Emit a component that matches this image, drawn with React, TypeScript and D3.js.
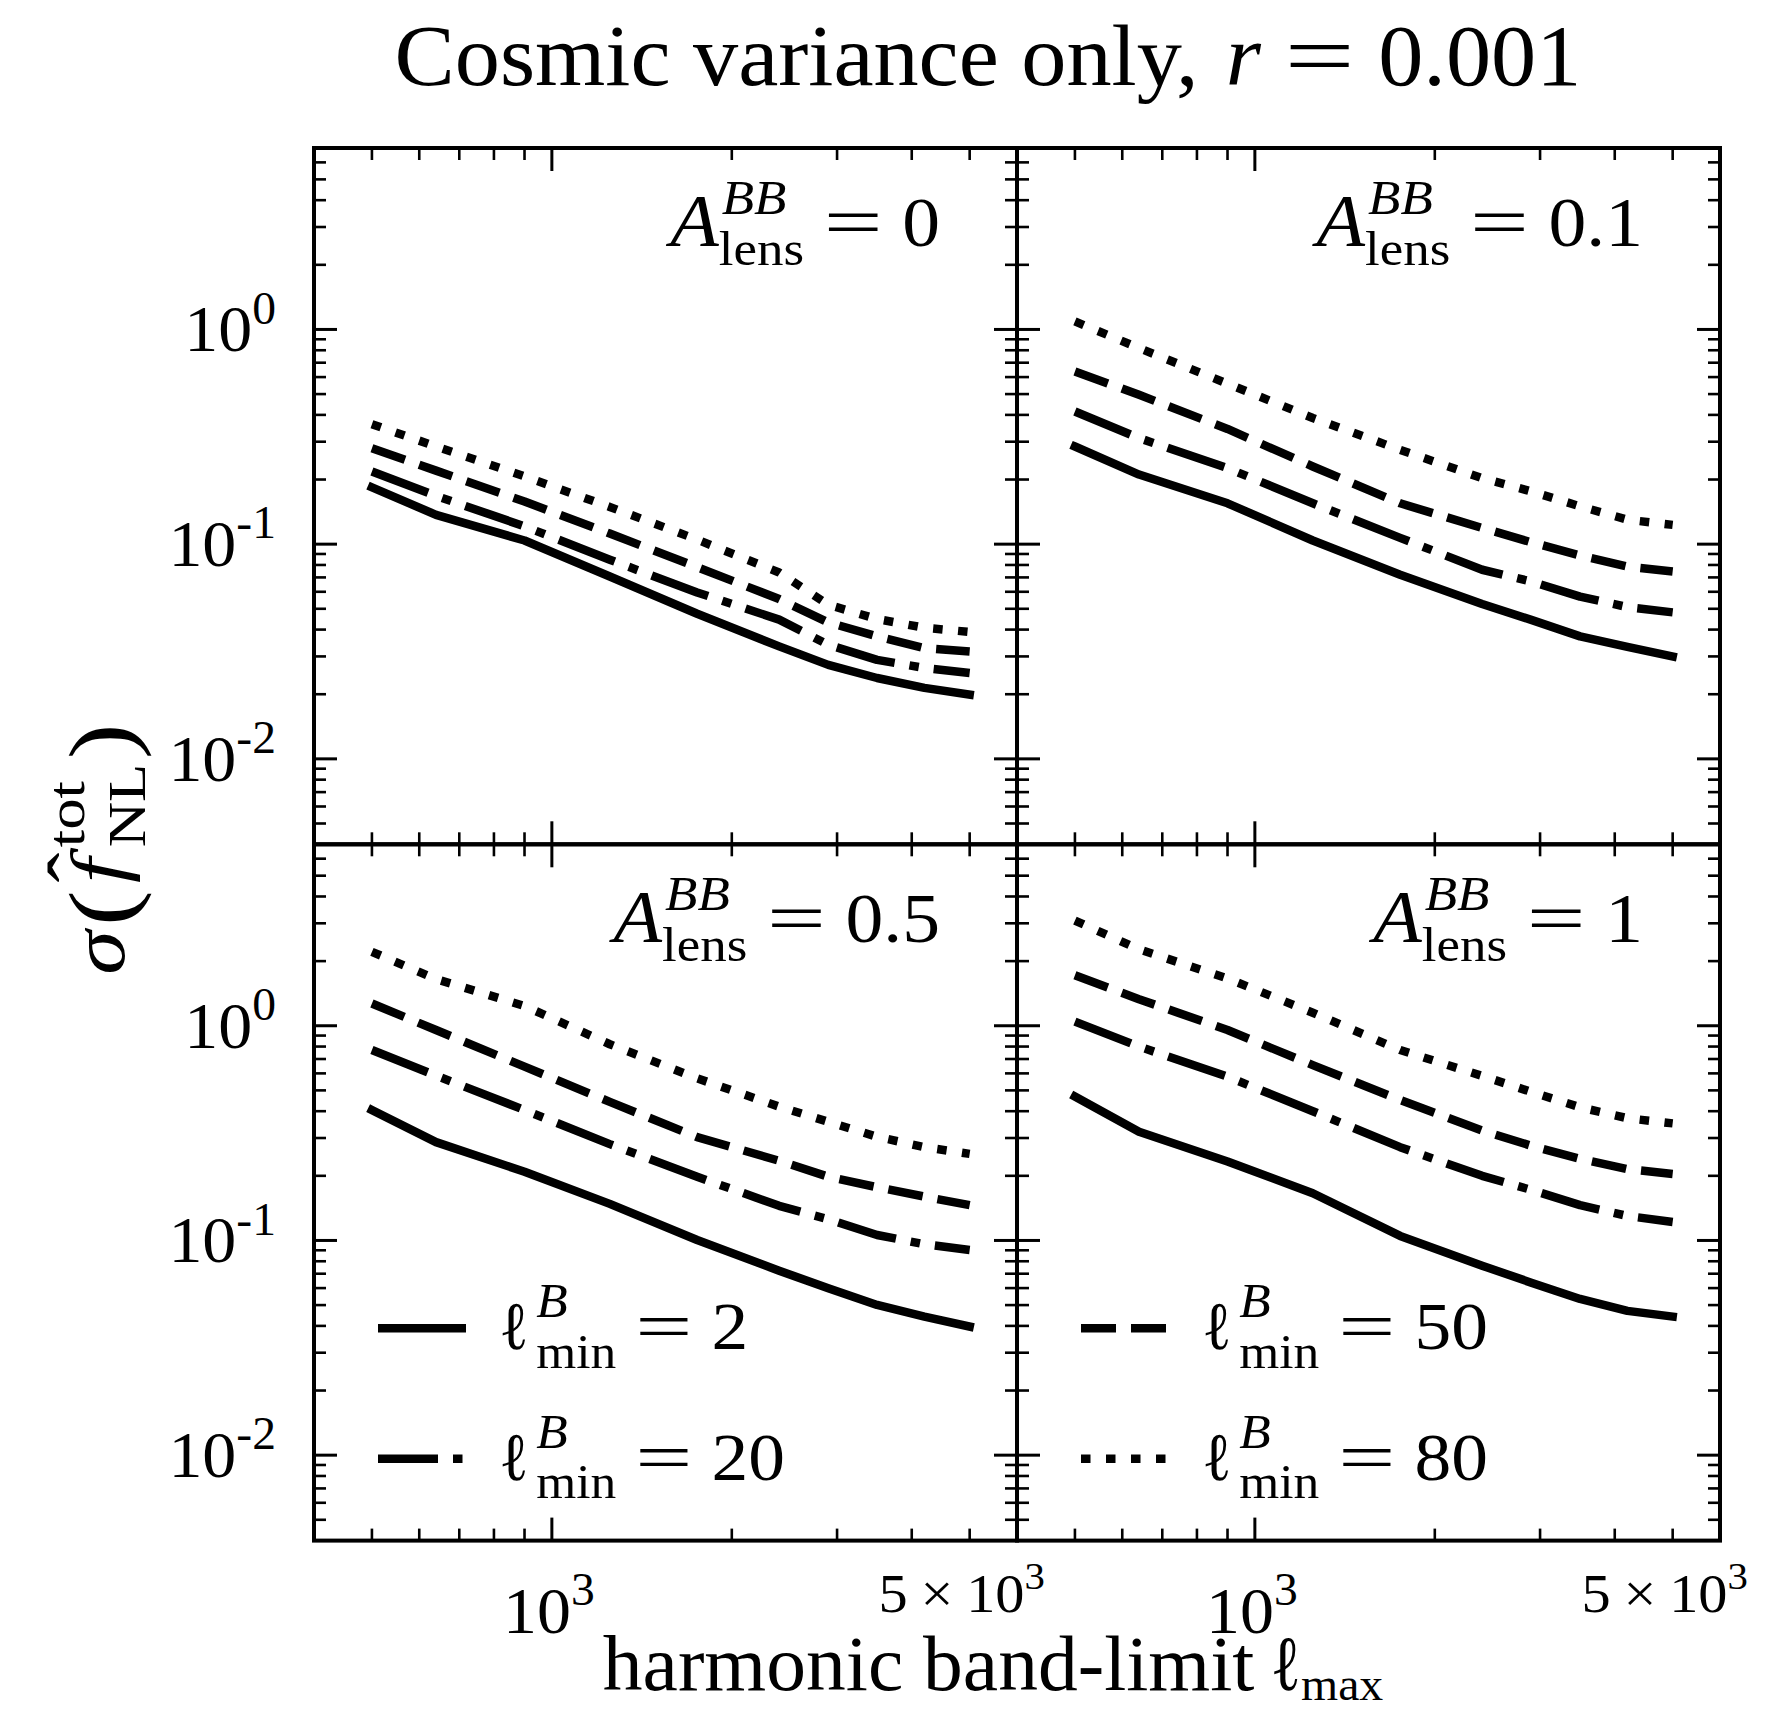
import React, { useEffect, useRef } from "react";
import * as d3 from "d3";

// ---------------- data ----------------
const ELL_MAX = [500, 640, 900, 1250, 1750, 2400, 2900, 3500, 4200, 5000];

// A_lens^BB = 0
const A0_L2 = [0.184, 0.137, 0.104, 0.0707, 0.0474, 0.0334, 0.0274, 0.0238, 0.0214, 0.0199];
const A0_L20 = [0.218, 0.168, 0.121, 0.0846, 0.0596, 0.0445, 0.034, 0.0289, 0.0265, 0.0251];
const A0_L50 = [0.28, 0.22, 0.158, 0.112, 0.0782, 0.0555, 0.0432, 0.0372, 0.0328, 0.0316];
const A0_L80 = [0.362, 0.285, 0.207, 0.149, 0.105, 0.0738, 0.0522, 0.0448, 0.0408, 0.039];
// A_lens^BB = 0.1
const A01_L2 = [0.285, 0.211, 0.155, 0.104, 0.072, 0.0526, 0.0444, 0.0372, 0.0332, 0.03];
const A01_L20 = [0.415, 0.312, 0.226, 0.155, 0.107, 0.076, 0.067, 0.057, 0.0509, 0.0481];
const A01_L50 = [0.637, 0.496, 0.344, 0.23, 0.155, 0.119, 0.102, 0.0886, 0.0787, 0.0746];
const A01_L80 = [1.09, 0.819, 0.559, 0.387, 0.275, 0.203, 0.176, 0.15, 0.13, 0.123];
// A_lens^BB = 0.5
const A05_L2 = [0.405, 0.287, 0.209, 0.148, 0.1005, 0.0723, 0.0599, 0.0501, 0.0442, 0.0397];
const A05_L20 = [0.771, 0.586, 0.405, 0.281, 0.198, 0.145, 0.1256, 0.106, 0.096, 0.0903];
const A05_L50 = [1.27, 0.955, 0.645, 0.442, 0.303, 0.235, 0.198, 0.177, 0.16, 0.146];
const A05_L80 = [2.21, 1.65, 1.236, 0.82, 0.569, 0.42, 0.357, 0.304, 0.272, 0.253];
// A_lens^BB = 1
const A1_L2 = [0.468, 0.321, 0.233, 0.166, 0.105, 0.0763, 0.0636, 0.0534, 0.047, 0.0442];
const A1_L20 = [1.045, 0.8, 0.579, 0.4, 0.272, 0.2, 0.172, 0.146, 0.13, 0.122];
const A1_L50 = [1.72, 1.33, 0.955, 0.656, 0.451, 0.325, 0.276, 0.24, 0.215, 0.204];
const A1_L80 = [3.09, 2.27, 1.66, 1.15, 0.771, 0.584, 0.492, 0.417, 0.371, 0.351];

const A_LENS_LABELS = ["0", "0.1", "0.5", "1"];
const ELL_MIN_LABELS = ["2", "20", "50", "80"];

const X_DOMAIN = [400, 6000];
const Y_DOMAIN = [0.004, 7];
const X_MAJOR = [1000];
const X_MINOR = [500, 600, 700, 800, 900, 2000, 3000, 4000, 5000];
const Y_MAJOR = [0.01, 0.1, 1];
const Y_MINOR = [
  0.004, 0.005, 0.006, 0.007, 0.008, 0.009,
  0.02, 0.03, 0.04, 0.05, 0.06, 0.07, 0.08, 0.09,
  0.2, 0.3, 0.4, 0.5, 0.6, 0.7, 0.8, 0.9,
  2, 3, 4, 5, 6,
];
const Y_TICK_EXP = ["-2", "-1", "0"];

// ---------------- styles / layout ----------------
const FONT = "'Liberation Serif', 'Times New Roman', serif";
const LW = 8.5;
const DASHES = ["none", "60,15,9.5,15", "35,15", "9.5,15.5"]; // solid, dash-dot, dashed, dotted

const PW = 703;
const PH = 696.3;
const COL_X = [314, 1017];
const ROW_Y = [148, 844.3];
const EQ_SX = 1.38;

type Part = {
  t?: string;
  it?: boolean;
  sc?: number;
  sx?: number;
  gap?: number;
  dy?: number;
  hat?: boolean;
  sup?: string;
  supIt?: boolean;
  sub?: string;
  subIt?: boolean;
  supDy?: number;
  subDy?: number;
  sgap?: number;
};

function putText(
  g: d3.Selection<any, any, any, any>,
  x: number,
  y: number,
  size: number,
  italic: boolean,
  str: string,
  sx = 1
) {
  const el = g
    .append("text")
    .attr("x", x / sx)
    .attr("y", y)
    .attr("font-size", size)
    .attr("font-style", italic ? "italic" : "normal")
    .text(str);
  if (sx !== 1) el.attr("transform", `scale(${sx},1)`);
  return (el.node() as SVGTextElement).getComputedTextLength() * sx;
}

function math(
  parent: d3.Selection<any, any, any, any>,
  x: number,
  y: number,
  fs: number,
  anchor: "start" | "end" | "middle",
  parts: Part[],
  stretch = 1
) {
  const outer = parent.append("g").attr("font-family", FONT).attr("fill", "#000");
  const g = outer.append("g");
  let cx = 0;
  for (const p of parts) {
    cx += (p.gap ?? 0) * fs;
    if (p.t !== undefined) {
      const sc = p.sc ?? 1;
      const w = putText(g, cx, (p.dy ?? 0) * fs, fs * sc, !!p.it, p.t, p.sx ?? 1);
      if (p.hat) {
        g.append("text")
          .attr("x", cx + w * 0.62)
          .attr("y", -0.3 * fs)
          .attr("font-size", fs)
          .attr("text-anchor", "middle")
          .text("\u02C6");
      }
      cx += w;
    } else {
      const sc = p.sc ?? 0.7;
      let w = 0;
      if (p.sup !== undefined) {
        w = Math.max(w, putText(g, cx + (p.sgap ?? 0) * fs, -(p.supDy ?? 0.45) * fs, fs * sc, !!p.supIt, p.sup));
      }
      if (p.sub !== undefined) {
        w = Math.max(w, putText(g, cx, (p.subDy ?? 0.26) * fs, fs * sc, !!p.subIt, p.sub));
      }
      cx += w;
    }
  }
  const total = cx * stretch;
  const off = anchor === "start" ? 0 : anchor === "end" ? -total : -total / 2;
  g.attr("transform", `scale(${stretch},1)`);
  outer.attr("transform", `translate(${x + off},${y})`);
  return outer;
}

function draw(svgEl: SVGSVGElement) {
  const svg = d3.select(svgEl);
  svg.selectAll("*").remove();
  svg.append("rect").attr("width", 1777).attr("height", 1714).attr("fill", "#fff");

  const panels = [
    { col: 0, row: 0, a: A_LENS_LABELS[0], series: [A0_L2, A0_L20, A0_L50, A0_L80] },
    { col: 1, row: 0, a: A_LENS_LABELS[1], series: [A01_L2, A01_L20, A01_L50, A01_L80] },
    { col: 0, row: 1, a: A_LENS_LABELS[2], series: [A05_L2, A05_L20, A05_L50, A05_L80] },
    { col: 1, row: 1, a: A_LENS_LABELS[3], series: [A1_L2, A1_L20, A1_L50, A1_L80] },
  ];

  for (const p of panels) {
    const x0 = COL_X[p.col];
    const y0 = ROW_Y[p.row];
    const x = d3.scaleLog().domain(X_DOMAIN).range([x0, x0 + PW]);
    const y = d3.scaleLog().domain(Y_DOMAIN).range([y0 + PH, y0]);
    const g = svg.append("g");

    const line = d3
      .line<number>()
      .x((_, i) => x(ELL_MAX[i]))
      .y((v) => y(v));

    p.series.forEach((s, i) => {
      g.append("path")
        .attr("d", line(s) as string)
        .attr("fill", "none")
        .attr("stroke", "#000")
        .attr("stroke-width", LW)
        .attr("stroke-linejoin", "round")
        .attr("stroke-linecap", i === 0 ? "square" : "butt")
        .attr("stroke-dasharray", DASHES[i]);
    });

    // ticks (inward, all sides)
    const tk = g.append("g").attr("stroke", "#000");
    const xt = [
      ...X_MAJOR.map((v) => ({ v, len: 23, w: 3 })),
      ...X_MINOR.map((v) => ({ v, len: 12, w: 2.6 })),
    ];
    xt.forEach((t) => {
      const xx = x(t.v);
      tk.append("line").attr("x1", xx).attr("x2", xx).attr("y1", y0 + PH).attr("y2", y0 + PH - t.len).attr("stroke-width", t.w);
      tk.append("line").attr("x1", xx).attr("x2", xx).attr("y1", y0).attr("y2", y0 + t.len).attr("stroke-width", t.w);
    });
    const yt = [
      ...Y_MAJOR.map((v) => ({ v, len: 23, w: 3 })),
      ...Y_MINOR.map((v) => ({ v, len: 12, w: 2.6 })),
    ];
    yt.forEach((t) => {
      const yy = y(t.v);
      tk.append("line").attr("y1", yy).attr("y2", yy).attr("x1", x0).attr("x2", x0 + t.len).attr("stroke-width", t.w);
      tk.append("line").attr("y1", yy).attr("y2", yy).attr("x1", x0 + PW).attr("x2", x0 + PW - t.len).attr("stroke-width", t.w);
    });

    g.append("rect")
      .attr("x", x0)
      .attr("y", y0)
      .attr("width", PW)
      .attr("height", PH)
      .attr("fill", "none")
      .attr("stroke", "#000")
      .attr("stroke-width", 4);

    // annotation A_lens^BB = ...
    math(
      g,
      x0 + PW - 77,
      y0 + 98,
      70,
      "end",
      [
        { t: "A", it: true, sc: 1.05 },
        { sup: "BB", supIt: true, sub: "lens", supDy: 0.46, subDy: 0.27, sgap: 0.04 },
        { t: "=", gap: 0.26, sx: EQ_SX },
        { t: p.a, gap: 0.26 },
      ],
      1.08
    );

    // y tick labels
    if (p.col === 0) {
      Y_MAJOR.forEach((v, i) => {
        math(g, x0 - 38, y(v) + 22, 66, "end", [{ t: "10" }, { sup: Y_TICK_EXP[i], supDy: 0.42 }], 1.03);
      });
    }
    // x tick labels
    if (p.row === 1) {
      math(g, x(1000) - 3, y0 + PH + 92, 66, "middle", [{ t: "10" }, { sup: "3", supDy: 0.42 }], 1.03);
      math(
        g,
        x(5000) - 8,
        y0 + PH + 71,
        54,
        "middle",
        [{ t: "5" }, { t: "\u00D7", gap: 0.22 }, { t: "10", gap: 0.22 }, { sup: "3", supDy: 0.42 }],
        1.08
      );
    }
  }

  // legends
  const legendRows = [
    { panel: 0, row: 0, idx: 0 },
    { panel: 0, row: 1, idx: 1 },
    { panel: 1, row: 0, idx: 2 },
    { panel: 1, row: 1, idx: 3 },
  ];
  legendRows.forEach((r) => {
    const x0 = COL_X[r.panel];
    const yy = ROW_Y[1] + 484 + r.row * 130.5;
    svg
      .append("line")
      .attr("x1", x0 + 64)
      .attr("x2", x0 + 152)
      .attr("y1", yy)
      .attr("y2", yy)
      .attr("stroke", "#000")
      .attr("stroke-width", LW)
      .attr("stroke-dasharray", DASHES[r.idx]);
    math(
      svg,
      x0 + 185,
      yy + 21,
      68,
      "start",
      [
        { t: "\u2113", sx: 0.85 },
        { sup: "B", supIt: true, sub: "min", supDy: 0.47, subDy: 0.27, gap: 0.1 },
        { t: "=", gap: 0.26, sx: EQ_SX },
        { t: ELL_MIN_LABELS[r.idx], gap: 0.26 },
      ],
      1.08
    );
  });

  // title
  math(
    svg,
    988,
    85,
    86,
    "middle",
    [
      { t: "Cosmic variance only," },
      { t: "r", it: true, gap: 0.3 },
      { t: "=", gap: 0.26, sx: EQ_SX },
      { t: "0.001", gap: 0.26 },
    ],
    1.05
  );

  // x label
  math(
    svg,
    993,
    1690,
    78,
    "middle",
    [
      { t: "harmonic band-limit" },
      { t: "\u2113", gap: 0.2, sx: 0.8 },
      { sub: "max", subDy: 0.13, sc: 0.6 },
    ],
    1.02
  );

  // y label (rotated)
  const yl = svg.append("g").attr("transform", "translate(124,849) rotate(-90)");
  math(
    yl,
    0,
    0,
    76,
    "middle",
    [
      { t: "\u03C3", it: true },
      { t: "(", sc: 1.2, dy: 0.1, gap: 0.05 },
      { t: "f", it: true, hat: true, gap: 0.08 },
      { sup: "tot", sub: "NL", supDy: 0.52, subDy: 0.28, gap: 0.12 },
      { t: ")", sc: 1.2, dy: 0.1, gap: 0.05 },
    ],
    1.18
  );
}

export default function App() {
  const ref = useRef<SVGSVGElement>(null);
  useEffect(() => {
    if (ref.current) draw(ref.current);
  }, []);
  return (
    <svg
      ref={ref}
      width={1777}
      height={1714}
      style={{ position: "absolute", left: 0, top: 0, display: "block" }}
    />
  );
}
